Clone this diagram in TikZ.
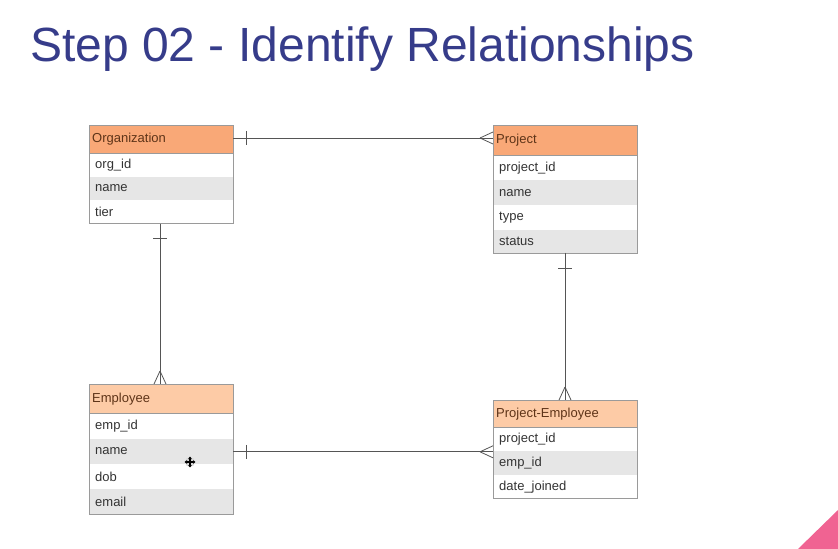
\documentclass[tikz,border=0pt]{standalone}
\usepackage{fontspec}
\setmainfont{Liberation Sans}
\usetikzlibrary{calc,arrows.meta}
\definecolor{titleblue}{HTML}{363C8A}
\definecolor{hdrdark}{HTML}{F9A877}
\definecolor{hdrlight}{HTML}{FDCBA6}
\definecolor{hdrtext}{HTML}{5E3418}
\definecolor{rowgray}{HTML}{E6E6E6}
\definecolor{boxgray}{HTML}{9A9A9A}
\definecolor{linegray}{HTML}{555555}
\definecolor{pink}{HTML}{F06392}
\definecolor{rowtext}{HTML}{333333}
\begin{document}
\begin{tikzpicture}[x=1bp,y=-1bp,
  hdr/.style={fill=#1, draw=none, anchor=north west, text=hdrtext,
    font=\fontsize{13bp}{15bp}\selectfont, inner xsep=3bp, inner ysep=0pt,
    text width=138bp, align=left},
  rowbox/.style={fill=#1, draw=none, anchor=north west, text=rowtext,
    font=\fontsize{13bp}{15bp}\selectfont, inner xsep=6bp, inner ysep=0pt,
    text width=132bp, align=left},
  frame/.style={draw=boxgray, line width=0.8bp},
  rel/.style={draw=linegray, line width=0.8bp},
]
\useasboundingbox (0,0) rectangle (838,549);
\fill[white] (0,0) rectangle (838,549);
\fill[pink] (798,549) -- (838,510) -- (838,549) -- cycle;

\node[anchor=base west, text=titleblue, font=\fontsize{48bp}{52bp}\selectfont, inner sep=0pt] (title) at (30,62) {Step 02 - Identify Relationships};

% Organization
\node[hdr=hdrdark, minimum height=28bp] (orgh) at (89,125) {Organization};
\node[rowbox=white, minimum height=23bp] (org1) at (orgh.south west) {org\_id};
\node[rowbox=rowgray, minimum height=23bp] (org2) at (org1.south west) {name};
\node[rowbox=white, minimum height=23bp] (org3) at (org2.south west) {tier};
\draw[frame] (orgh.north west) rectangle (org3.south east);
\draw[frame] (orgh.south west) -- (orgh.south east);

% Project
\node[hdr=hdrdark, minimum height=30bp] (projh) at (493,125) {Project};
\node[rowbox=white, minimum height=24.5bp] (proj1) at (projh.south west) {project\_id};
\node[rowbox=rowgray, minimum height=24.5bp] (proj2) at (proj1.south west) {name};
\node[rowbox=white, minimum height=24bp] (proj3) at (proj2.south west) {type};
\node[rowbox=rowgray, minimum height=23bp] (proj4) at (proj3.south west) {status};
\draw[frame] (projh.north west) rectangle (proj4.south east);
\draw[frame] (projh.south west) -- (projh.south east);

% Employee
\node[hdr=hdrlight, minimum height=29bp] (emph) at (89,384) {Employee};
\node[rowbox=white, minimum height=25bp] (emp1) at (emph.south west) {emp\_id};
\node[rowbox=rowgray, minimum height=25bp] (emp2) at (emp1.south west) {name};
\node[rowbox=white, minimum height=24.5bp] (emp3) at (emp2.south west) {dob};
\node[rowbox=rowgray, minimum height=24.5bp] (emp4) at (emp3.south west) {email};
\draw[frame] (emph.north west) rectangle (emp4.south east);
\draw[frame] (emph.south west) -- (emph.south east);

% Project-Employee
\node[hdr=hdrlight, minimum height=27bp] (peh) at (493,400) {Project-Employee};
\node[rowbox=white, minimum height=23.3bp] (pe1) at (peh.south west) {project\_id};
\node[rowbox=rowgray, minimum height=23.3bp] (pe2) at (pe1.south west) {emp\_id};
\node[rowbox=white, minimum height=23.4bp] (pe3) at (pe2.south west) {date\_joined};
\draw[frame] (peh.north west) rectangle (pe3.south east);
\draw[frame] (peh.south west) -- (peh.south east);

% Organization - Project (one to many)
\coordinate (a1) at ($(orgh.north east)+(0,13)$);
\coordinate (a2) at (a1 -| projh.west);
\draw[rel] (a1) -- (a2);
\draw[rel] ($(a1)+(13,-7)$) -- ($(a1)+(13,7)$);
\draw[rel] ($(a2)+(-13,0)$) -- ($(a2)+(0,-6)$);
\draw[rel] ($(a2)+(-13,0)$) -- ($(a2)+(0,6)$);

% Organization - Employee
\coordinate (b1) at ($(org3.south west)+(71,0)$);
\coordinate (b2) at (b1 |- emph.north);
\draw[rel] (b1) -- (b2);
\draw[rel] ($(b1)+(-7,15)$) -- ($(b1)+(7,15)$);
\draw[rel] ($(b2)+(0,-13)$) -- ($(b2)+(-6,0)$);
\draw[rel] ($(b2)+(0,-13)$) -- ($(b2)+(6,0)$);

% Project - Project-Employee
\coordinate (c1) at ($(proj4.south west)+(72,0)$);
\coordinate (c2) at (c1 |- peh.north);
\draw[rel] (c1) -- (c2);
\draw[rel] ($(c1)+(-7,15)$) -- ($(c1)+(7,15)$);
\draw[rel] ($(c2)+(0,-13)$) -- ($(c2)+(-6,0)$);
\draw[rel] ($(c2)+(0,-13)$) -- ($(c2)+(6,0)$);

% Employee - Project-Employee
\coordinate (d1) at ($(emp2.north east)+(0,13)$);
\coordinate (d2) at (d1 -| pe2.west);
\draw[rel] (d1) -- (d2);
\draw[rel] ($(d1)+(13,-7)$) -- ($(d1)+(13,7)$);
\draw[rel] ($(d2)+(-13,0)$) -- ($(d2)+(0,-6)$);
\draw[rel] ($(d2)+(-13,0)$) -- ($(d2)+(0,6)$);

% move cursor
\coordinate (cur) at (190,462);
\fill[white!85!black] (cur) circle (5);
\foreach \ang in {0,90,180,270}
  \draw[black, line width=1.1bp, -{Triangle[length=2.5bp,width=3.5bp]}] (cur) -- ++(\ang:5.5);
\end{tikzpicture}
\end{document}
